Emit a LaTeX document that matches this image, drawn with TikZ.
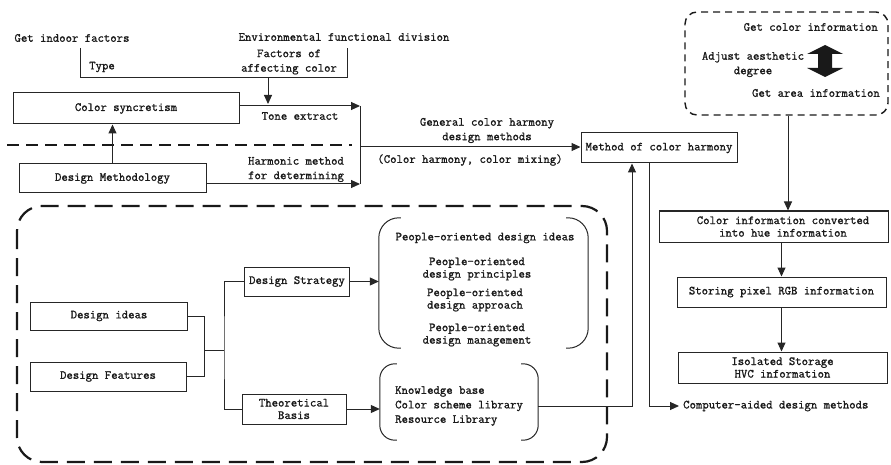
\documentclass[tikz,border=0pt]{standalone}
\usepackage{fontspec}
\newfontfamily\lblfont{Latin Modern Mono}[FakeBold=1.2]
\usetikzlibrary{arrows.meta}

\tikzset{
  txt/.style={font={\lblfont\fontsize{12.4}{14.5}\selectfont}, inner sep=0pt, align=center, text=black!90},
  tight/.style={font={\lblfont\fontsize{12.4}{12.5}\selectfont}},
  box/.style={draw=black!85, line width=1pt, inner sep=0pt, txt},
  link/.style={draw=black!85, line width=1pt},
  arr/.style={link, -{Triangle[length=9pt,width=8pt]}},
  zone/.style={draw=black!90, line width=2.2pt, dash pattern=on 18pt off 9pt, rounded corners=25},
  seam/.style={draw=black!90, line width=1.8pt, dash pattern=on 12pt off 7pt},
  pocket/.style={draw=black!90, line width=1.4pt, dash pattern=on 7pt off 5pt, rounded corners=12, inner sep=0pt},
}

\begin{document}
\begin{tikzpicture}[x=1pt,y=-1pt]
\useasboundingbox (0,0) rectangle (891,465);

% ---- inputs feeding the tone extraction ----
\node[txt] (indoor) at (72,38) {Get indoor factors};
\node[txt] (envdiv) at (344,37) {Environmental functional division};
\node[txt] (type) at (102,67) {Type};
\node[txt] (factors) at (289,62) {Factors of\\affecting color};
\coordinate (inL) at (80,48);
\coordinate (inR) at (347,48);
\coordinate (jl) at (80,78);
\coordinate (jr) at (347,78);
\coordinate (jm) at (268,78);
\draw[link] (inL) -- (jl) -- (jr) -- (inR);

\node[box, minimum width=226, minimum height=31] (sync) at (126,108.5) {Color syncretism};
\coordinate (tonejoin) at (360,106);
\coordinate (mainjoin) at (360,147);
\coordinate (harmjoin) at (360,184);
\draw[arr] (sync.east |- tonejoin) -- (tonejoin);
\draw[arr, shorten >=2pt] (jm) -- (jm |- tonejoin);
\node[txt] (tone) at (300,116) {Tone extract};

% ---- dashed divider ----
\coordinate (dashL) at (7,145);
\coordinate (dashR) at (352,145);
\draw[seam] (dashL) -- (dashR);

\node[box, minimum width=187, minimum height=29] (meth) at (112.5,178.5) {Design Methodology};
\draw[arr] (meth.north) -- (meth.north |- sync.south);
\draw[arr] (meth.east |- harmjoin) -- (harmjoin);
\node[txt] (harm) at (296,169.5) {Harmonic method\\for determining};
\draw[link] (tonejoin) -- (harmjoin);

% ---- method of color harmony ----
\node[box, minimum width=156, minimum height=30] (mch) at (659,148) {Method of color harmony};
\draw[arr] (mainjoin) -- (mainjoin -| mch.west);
\node[txt] (general) at (487,130.5) {General color harmony\\design methods};
\node[txt] (mixing) at (470,160) {(Color harmony, color mixing)};

% ---- design framework zone ----
\draw[zone] (17,206) rectangle (607,462);
\node[box, minimum width=157, minimum height=28] (ideas) at (109,316) {Design ideas};
\node[box, minimum width=156, minimum height=29] (features) at (108,376.5) {Design Features};
\coordinate (fork) at (204,350);
\coordinate (trunk) at (224,350);
\draw[link] (ideas.east) -- (ideas.east -| fork) -- (features.east -| fork) -- (features.east);
\draw[link] (fork) -- (trunk);
\node[box, minimum width=105, minimum height=29] (strategy) at (297,281.5) {Design Strategy};
\node[box, tight, minimum width=104, minimum height=30] (theory) at (294,409) {Theoretical\\Basis};
\draw[link] (strategy.west) -| (trunk) |- (theory.west);

% people-oriented group
\node[minimum width=209, minimum height=130, inner sep=0pt] (ideaset) at (483.5,283) {};
\draw[link, rounded corners=20] ([xshift=22pt]ideaset.north west) -- (ideaset.north west) -- (ideaset.south west) -- ([xshift=22pt]ideaset.south west);
\draw[link, rounded corners=20] ([xshift=-22pt]ideaset.north east) -- (ideaset.north east) -- (ideaset.south east) -- ([xshift=-22pt]ideaset.south east);
\draw[arr] (strategy.east) -- (strategy.east -| ideaset.west);
\node[txt] (pi0) at (485,238) {People-oriented design ideas};
\node[txt, tight] (pi1) at (477,269) {People-oriented\\design principles};
\node[txt, tight] (pi2) at (475,300) {People-oriented\\design approach};
\node[txt, tight] (pi3) at (477,335) {People-oriented\\design management};

% library group
\node[minimum width=158, minimum height=76, inner sep=0pt] (libset) at (459,402) {};
\draw[link, rounded corners=15] ([xshift=17pt]libset.north west) -- (libset.north west) -- (libset.south west) -- ([xshift=17pt]libset.south west);
\draw[link, rounded corners=15] ([xshift=-17pt]libset.north east) -- (libset.north east) -- (libset.south east) -- ([xshift=-17pt]libset.south east);
\draw[arr] (theory.east) -- (theory.east -| libset.west);
\node[txt, align=left, anchor=west] (lib) at (395,406) {Knowledge base\\Color scheme library\\Resource Library};

\coordinate (upx) at (632,406);
\draw[arr] (libset.east |- upx) -- (upx) -- (upx |- mch.south);
\coordinate (dnx) at (649,406);
\node[txt, anchor=west] (cad) at (683,406) {Computer-aided design methods};
\draw[arr, shorten >=4pt] (dnx |- mch.south) -- (dnx) -- (cad.west);

% ---- color information group ----
\node[pocket, minimum width=203, minimum height=103] (gather) at (786.5,63.5) {};
\node[txt, anchor=east] (getcolor) at (878,27) {Get color information};
\node[txt] (adjust) at (753,64.5) {Adjust aesthetic\\degree};
\node[txt, anchor=east] (getarea) at (880,93) {Get area information};
\fill[black!90] (825,45) -- (843,54) -- (832,54) -- (832,68) -- (843,68) -- (825,77)
  -- (807,68) -- (818,68) -- (818,54) -- (807,54) -- cycle;

\node[box, minimum width=229, minimum height=31] (cinfo) at (773.5,226.5) {};
\node[txt, tight] (cinfotext) at (783,226.5) {Color information converted\\into hue information};
\coordinate (gx) at (788,0);
\draw[arr] (gather.south -| gx) -- (gx |- cinfo.north);

\node[box, minimum width=209, minimum height=30] (storing) at (781.5,292) {Storing pixel RGB information};
\draw[arr] (cinfo.south -| storing.north) -- (storing.north);
\node[box, tight, minimum width=209, minimum height=31] (isolated) at (782.5,367.5) {Isolated Storage\\HVC information};
\draw[arr] (storing.south) -- (storing.south |- isolated.north);
\end{tikzpicture}
\end{document}
